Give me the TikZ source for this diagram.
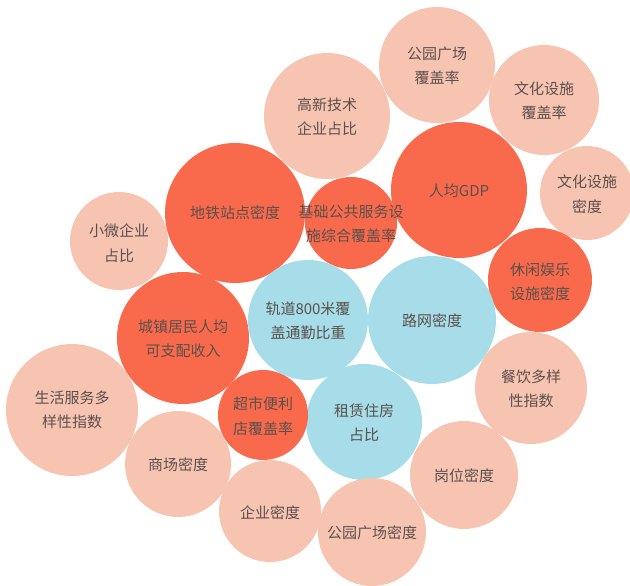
\documentclass[tikz,border=0pt]{standalone}
\usepackage{fontspec}
\newfontfamily\cjk{Noto Sans CJK SC}
\definecolor{cdark}{HTML}{F96A4C}
\definecolor{clight}{HTML}{F8C4B2}
\definecolor{cblue}{HTML}{A6DDE9}
\definecolor{ctext}{HTML}{5B504C}
\tikzset{
  lbl/.style={align=center, text=ctext, font=\cjk\fontsize{15}{24.5}\selectfont, inner sep=0pt},
  dk/.style={fill=cdark},
  lt/.style={fill=clight},
  bl/.style={fill=cblue}
}
\begin{document}
\begin{tikzpicture}[x=1pt,y=-1pt]
\useasboundingbox (0,0) rectangle (630,586);
% circles
\fill[lt] (119,241) circle (49);
\fill[lt] (327,116) circle (63);
\fill[lt] (437,65) circle (58);
\fill[lt] (544,100) circle (55);
\fill[lt] (587,193) circle (47);
\fill[dk] (235,213) circle (70);
\fill[dk] (459,190) circle (68);
\fill[dk] (351,223) circle (46);
\fill[dk] (540,280) circle (52);
\fill[dk] (183,338) circle (66);
\fill[bl] (308,320) circle (60);
\fill[bl] (432,320) circle (64);
\fill[bl] (364,422) circle (58);
\fill[dk] (263,415) circle (45);
\fill[lt] (72,410) circle (66);
\fill[lt] (178,464) circle (53);
\fill[lt] (270,511) circle (51);
\fill[lt] (372,532) circle (54);
\fill[lt] (464,475) circle (54);
\fill[lt] (531,388) circle (56);
% labels
\node[lbl] (xw) at (119,243) {小微企业\\占比};
\node[lbl] (gx) at (327,117) {高新技术\\企业占比};
\node[lbl] (gyf) at (437,66) {公园广场\\覆盖率};
\node[lbl] (whf) at (544,101) {文化设施\\覆盖率};
\node[lbl] (whm) at (587,194) {文化设施\\密度};
\node[lbl] (dt) at (235,213) {地铁站点密度};
\node[lbl] (rj) at (459,191) {人均GDP};
\node[lbl] (jc) at (351,224) {基础公共服务设\\施综合覆盖率};
\node[lbl] (xx) at (540,282) {休闲娱乐\\设施密度};
\node[lbl] (cz) at (183,339) {城镇居民人均\\可支配收入};
\node[lbl] (gd) at (308,321) {轨道800米覆\\盖通勤比重};
\node[lbl] (lw) at (432,321) {路网密度};
\node[lbl] (zl) at (364,423) {租赁住房\\占比};
\node[lbl] (cs) at (263,416) {超市便利\\店覆盖率};
\node[lbl] (sh) at (72,410) {生活服务多\\样性指数};
\node[lbl] (sc) at (178,465) {商场密度};
\node[lbl] (qy) at (270,513) {企业密度};
\node[lbl] (gym) at (372,533) {公园广场密度};
\node[lbl] (gw) at (464,476) {岗位密度};
\node[lbl] (cy) at (531,389) {餐饮多样\\性指数};
\end{tikzpicture}
\end{document}
